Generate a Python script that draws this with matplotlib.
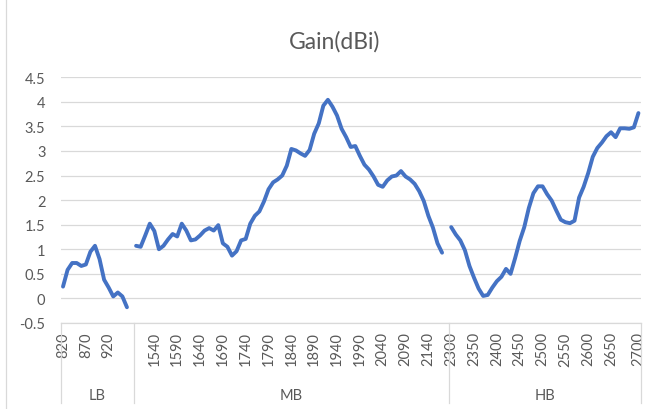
"""
Gain(dBi) across LB / MB / HB — Excel-style multi-level category chart.
"""
import numpy as np
import matplotlib
matplotlib.use("Agg")
import matplotlib.pyplot as plt
from matplotlib.lines import Line2D

# ── data ──────────────────────────────────────────────────────────────────────
LB_FREQ = list(range(820, 970, 10))                       # 820 … 960
LB_GAIN = [0.24, 0.58, 0.72, 0.72, 0.66, 0.69, 0.95, 1.07, 0.80, 0.38,
           0.22, 0.04, 0.12, 0.04, -0.18]

MB_FREQ = list(range(1500, 2180, 10))                     # 1500 … 2170
MB_GAIN = [1.07, 1.05, 1.28, 1.52, 1.37, 1.00, 1.07, 1.20, 1.31, 1.26,
           1.52, 1.38, 1.18, 1.20, 1.28, 1.38, 1.43, 1.38, 1.49, 1.12,
           1.05, 0.87, 0.96, 1.18, 1.21, 1.52, 1.68, 1.77, 1.97, 2.22,
           2.36, 2.42, 2.50, 2.70, 3.04, 3.01, 2.95, 2.90, 3.02, 3.35,
           3.56, 3.92, 4.04, 3.90, 3.72, 3.45, 3.28, 3.08, 3.10, 2.90,
           2.72, 2.62, 2.48, 2.31, 2.27, 2.40, 2.48, 2.50, 2.59, 2.48,
           2.42, 2.33, 2.18, 1.98, 1.68, 1.44, 1.12, 0.93]

HB_FREQ = list(range(2300, 2660, 10)) + [2660, 2670, 2680, 2690, 2695, 2700]
HB_GAIN = [1.45, 1.30, 1.18, 0.98, 0.66, 0.42, 0.20, 0.05, 0.07, 0.22,
           0.35, 0.44, 0.60, 0.50, 0.82, 1.17, 1.45, 1.84, 2.14, 2.28,
           2.28, 2.12, 1.99, 1.79, 1.60, 1.55, 1.53, 1.58, 2.05, 2.27,
           2.55, 2.88, 3.06, 3.17, 3.30, 3.38, 3.28, 3.46, 3.46, 3.45,
           3.48, 3.77]

BANDS = ["LB", "MB", "HB"]
SHOWN_LABELS = [820, 870, 920,
                1540, 1590, 1640, 1690, 1740, 1790, 1840, 1890, 1940, 1990,
                2040, 2090, 2140,
                2300, 2350, 2400, 2450, 2500, 2550, 2600, 2650, 2700]

# ── colours ───────────────────────────────────────────────────────────────────
LINE_COL = "#4472C4"
GRID_COL = "#d9d9d9"
TEXT_COL = "#595959"
FONT = ["Lato", "DejaVu Sans"]

# ── category axis: bands laid end to end, one blank slot after LB and MB ───
band_freqs = [LB_FREQ, MB_FREQ, HB_FREQ]
band_gains = [LB_GAIN, MB_GAIN, HB_GAIN]

cat_labels, cat_values, band_edges = [], [], [-0.5]
for i, (f, g) in enumerate(zip(band_freqs, band_gains)):
    cat_labels += f
    cat_values += g
    if i < len(band_freqs) - 1:
        cat_labels.append(None)
        cat_values.append(np.nan)
    band_edges.append(len(cat_labels) - 0.5)

n_cat = len(cat_labels)
xs = np.arange(n_cat)
ys = np.array(cat_values, dtype=float)

# ── figure ────────────────────────────────────────────────────────────────────
fig = plt.figure(figsize=(6.53, 4.10), dpi=100)
ax = fig.add_axes([0.093, 0.2098, 0.8882, 0.5995])

ax.set_xlim(-0.5, n_cat - 0.5)
ax.set_ylim(-0.5, 4.5)

yt = np.arange(-0.5, 4.51, 0.5)
ax.set_yticks(yt)
ax.set_yticklabels([f"{v:g}" for v in yt], fontsize=10.5, color=TEXT_COL, family=FONT)
ax.yaxis.grid(True, color=GRID_COL, linewidth=0.9)
ax.set_axisbelow(True)
for s in ["left", "right", "top"]:
    ax.spines[s].set_visible(False)
ax.spines["bottom"].set_color(GRID_COL)
ax.spines["bottom"].set_linewidth(0.9)
ax.tick_params(axis="y", length=0, pad=11)

# frequency tick labels
tick_pos = [i for i, c in enumerate(cat_labels) if c in SHOWN_LABELS]
ax.set_xticks(tick_pos)
ax.set_xticklabels([str(cat_labels[i]) for i in tick_pos], rotation=90,
                   fontsize=10.5, color=TEXT_COL, family=FONT)
ax.tick_params(axis="x", length=0, pad=6)

# the gain curve
ax.plot(xs, ys, color=LINE_COL, linewidth=2.8,
        solid_capstyle="round", solid_joinstyle="round", zorder=3)

# band dividers and band names below the frequency labels
trans = ax.get_xaxis_transform()
for e in band_edges:
    ax.add_line(Line2D([e, e], [0, -0.326], transform=trans, color=GRID_COL,
                       linewidth=0.9, clip_on=False))
for name, a, b in zip(BANDS, band_edges[:-1], band_edges[1:]):
    ax.text((a + b) / 2, -0.293, name, transform=trans, ha="center", va="center",
            fontsize=10.5, color=TEXT_COL, family=FONT)

# title
fig.text(0.513, 0.898, "Gain(dBi)", ha="center", va="center",
         fontsize=16.5, color=TEXT_COL, family=FONT)

# chart-area border (left edge visible in the crop)
fig.add_artist(Line2D([6 / 653, 6 / 653], [0, 1], transform=fig.transFigure,
                      color=GRID_COL, linewidth=0.9))

fig.savefig("out.png", dpi=100, facecolor="white")
